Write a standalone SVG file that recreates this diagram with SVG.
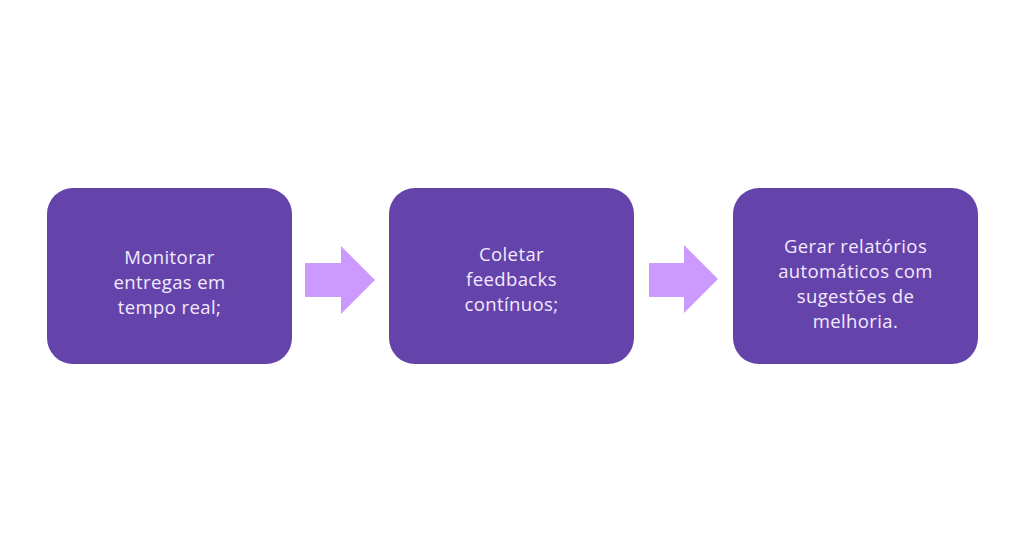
<svg xmlns="http://www.w3.org/2000/svg" width="1024" height="553" viewBox="0 0 1024 553">
<style>
.box{fill:#6444AA;}
.arrow{fill:#CC99FF;}
.lbl{font-family:"Open Sans","Liberation Sans",sans-serif;font-size:18.5px;letter-spacing:0.4px;fill:#F3EAFF;text-anchor:middle;}
</style>
<rect width="1024" height="553" fill="#FFFFFF"/>
<g id="node1">
<rect class="box" x="47" y="188" width="245" height="176" rx="26"/>
<text class="lbl" x="169.5" y="264">Monitorar</text>
<text class="lbl" x="169.5" y="289">entregas em</text>
<text class="lbl" x="169.5" y="314">tempo real;</text>
</g>
<g id="node2">
<rect class="box" x="389" y="188" width="245" height="176" rx="26"/>
<text class="lbl" x="511.5" y="261">Coletar</text>
<text class="lbl" x="511.5" y="286">feedbacks</text>
<text class="lbl" x="511.5" y="311">contínuos;</text>
</g>
<g id="node3">
<rect class="box" x="733" y="188" width="245" height="176" rx="26"/>
<text class="lbl" x="855.5" y="253">Gerar relatórios</text>
<text class="lbl" x="855.5" y="278">automáticos com</text>
<text class="lbl" x="855.5" y="303">sugestões de</text>
<text class="lbl" x="855.5" y="328">melhoria.</text>
</g>
<g id="connectors">
<polygon class="arrow" points="305,263 341,263 341,246 375,280 341,314 341,297 305,297"/>
<polygon class="arrow" points="649,263 684,263 684,245 718,279 684,313 684,297 649,297"/>
</g>
</svg>
